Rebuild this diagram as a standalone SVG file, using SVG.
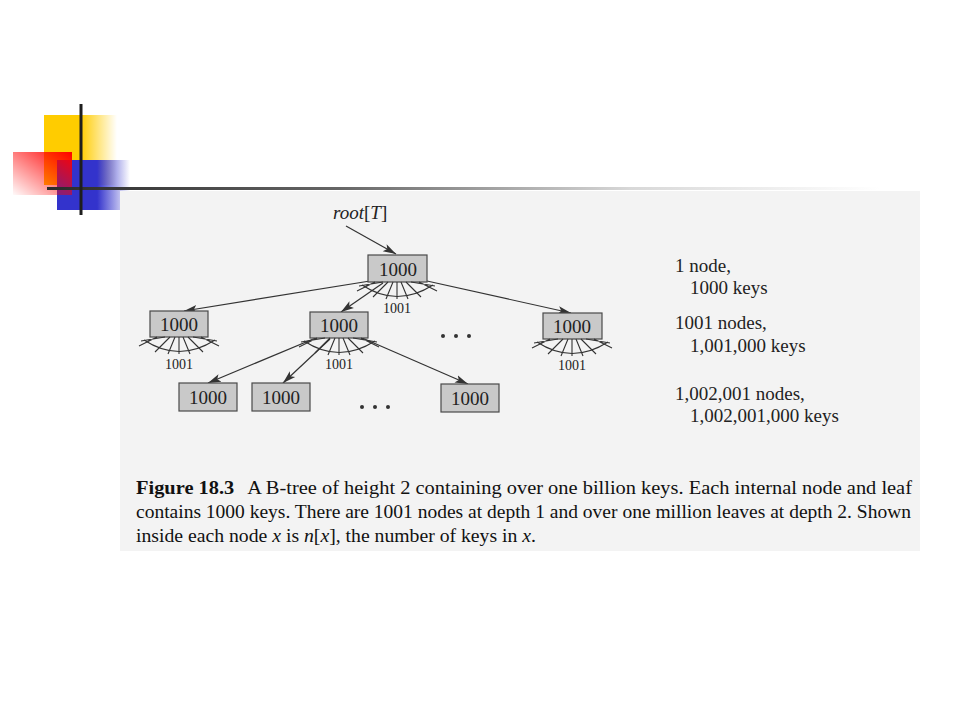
<svg xmlns="http://www.w3.org/2000/svg" width="960" height="720" viewBox="0 0 960 720">
<defs>
<style>
.nd{fill:#c9c9c9;stroke:#4a4a4a;stroke-width:1.2}
.nt{font-family:"Liberation Serif","Times New Roman",serif;font-size:19px;fill:#222;text-anchor:middle}
.lb{font-family:"Liberation Serif","Times New Roman",serif;font-size:14px;fill:#222;text-anchor:middle}
.rt{font-family:"Liberation Serif","Times New Roman",serif;font-size:19px;fill:#222}
.cap{font-family:"Liberation Serif","Times New Roman",serif;font-size:19px;fill:#111}
.ed{stroke:#333;stroke-width:1.2;fill:none;marker-end:url(#ah)}
.fan{stroke:#333;stroke-width:1.1;fill:none}
.dot{fill:#333}
</style>
<marker id="ah" markerUnits="userSpaceOnUse" markerWidth="14" markerHeight="10" viewBox="0 0 14 10" refX="13" refY="5" orient="auto">
<path d="M0,1 L13,5 L0,9 L3,5 Z" fill="#333"/>
</marker>
<g id="fan">
<path class="fan" d="M-35,3 Q0,26 36,3"/>
<path class="fan" d="M-22,0 L-40,9 M-14,0 L-38,4 M-9,0 L-24,15 M-4,0 L-11,17 M0,0 L0,17 M4,0 L11,17 M9,0 L24,15 M14,0 L38,4 M22,0 L40,9"/>
</g>
<linearGradient id="gy" x1="0" y1="0" x2="1" y2="0">
<stop offset="0" stop-color="#FFCC00"/><stop offset="0.5" stop-color="#FFCC00"/><stop offset="1" stop-color="#FFCC00" stop-opacity="0"/>
</linearGradient>
<linearGradient id="gb" x1="0" y1="0" x2="1" y2="0">
<stop offset="0" stop-color="#3333CC"/><stop offset="0.55" stop-color="#3333CC"/><stop offset="1" stop-color="#3333CC" stop-opacity="0"/>
</linearGradient>
<linearGradient id="gr" x1="1" y1="0" x2="0" y2="1">
<stop offset="0" stop-color="#FF0000"/><stop offset="1" stop-color="#FF0000" stop-opacity="0.02"/>
</linearGradient>
<linearGradient id="gl" gradientUnits="userSpaceOnUse" x1="47" y1="0" x2="880" y2="0">
<stop offset="0" stop-color="#2a2a2a"/><stop offset="0.35" stop-color="#666"/><stop offset="0.7" stop-color="#d8d8d8"/><stop offset="1" stop-color="#ffffff"/>
</linearGradient>
</defs>
<rect width="960" height="720" fill="#ffffff"/>
<g id="decor">
<rect x="44" y="115" width="73" height="70" fill="url(#gy)"/>
<rect x="57" y="160" width="73" height="50" fill="url(#gb)"/>
<rect x="13" y="152" width="59" height="43" fill="url(#gr)"/>
<rect x="47" y="187" width="873" height="3" fill="url(#gl)"/>
<rect x="79.5" y="104" width="3" height="111" fill="#1e1e1e"/>
</g>
<rect id="panel" x="120" y="191" width="800" height="360" fill="#f3f3f3"/>
<g id="connectors">
<path class="ed" d="M346,226 L396,254"/>
<path class="ed" d="M370,281 L184,311"/>
<path class="ed" d="M383,283 L341,312"/>
<path class="ed" d="M427,281 L571,313"/>
<path class="ed" d="M318,337 L208,383"/>
<path class="ed" d="M330,339 L283,383"/>
<path class="ed" d="M360,337 L468,384"/>
</g>
<text class="rt" x="333" y="219" font-style="italic">root<tspan font-style="normal">[</tspan>T<tspan font-style="normal">]</tspan></text>
<g id="root">
<rect class="nd" x="368" y="255" width="59" height="27"/>
<text class="nt" x="398" y="276">1000</text>
<use href="#fan" x="397" y="282"/>
<text class="lb" x="397" y="313">1001</text>
</g>
<g id="d1-left">
<rect class="nd" x="150" y="311" width="58" height="26"/>
<text class="nt" x="179" y="331">1000</text>
<use href="#fan" x="179" y="337"/>
<text class="lb" x="179" y="369">1001</text>
</g>
<g id="d1-mid">
<rect class="nd" x="310" y="312" width="58" height="26"/>
<text class="nt" x="339" y="332">1000</text>
<use href="#fan" x="339" y="338"/>
<text class="lb" x="339" y="369">1001</text>
</g>
<g id="d1-right">
<rect class="nd" x="543" y="313" width="59" height="26"/>
<text class="nt" x="572" y="333">1000</text>
<use href="#fan" x="572" y="339"/>
<text class="lb" x="572" y="370">1001</text>
</g>
<g id="leaf1">
<rect class="nd" x="179" y="383" width="58" height="28"/>
<text class="nt" x="208" y="404">1000</text>
</g>
<g id="leaf2">
<rect class="nd" x="252" y="383" width="58" height="28"/>
<text class="nt" x="281" y="404">1000</text>
</g>
<g id="leaf3">
<rect class="nd" x="441" y="384" width="58" height="28"/>
<text class="nt" x="470" y="405">1000</text>
</g>
<g id="dots">
<circle class="dot" cx="443" cy="336" r="2"/><circle class="dot" cx="456" cy="336" r="2"/><circle class="dot" cx="469" cy="336" r="2"/>
<circle class="dot" cx="362" cy="407" r="2"/><circle class="dot" cx="375" cy="407" r="2"/><circle class="dot" cx="388" cy="407" r="2"/>
</g>
<g id="counts">
<text class="rt" x="675" y="272">1 node,</text>
<text class="rt" x="690" y="294">1000 keys</text>
<text class="rt" x="675" y="329">1001 nodes,</text>
<text class="rt" x="690" y="352">1,001,000 keys</text>
<text class="rt" x="675" y="400">1,002,001 nodes,</text>
<text class="rt" x="690" y="422">1,002,001,000 keys</text>
</g>
<g id="caption">
<text class="cap" x="136" y="494" textLength="776" lengthAdjust="spacingAndGlyphs"><tspan font-weight="bold">Figure 18.3</tspan><tspan dx="12">A B-tree of height 2 containing over one billion keys.  Each internal node and leaf</tspan></text>
<text class="cap" x="136" y="518" textLength="775" lengthAdjust="spacingAndGlyphs">contains 1000 keys. There are 1001 nodes at depth 1 and over one million leaves at depth 2. Shown</text>
<text class="cap" x="136" y="542" textLength="400" lengthAdjust="spacingAndGlyphs">inside each node <tspan font-style="italic">x</tspan> is <tspan font-style="italic">n</tspan>[<tspan font-style="italic">x</tspan>], the number of keys in <tspan font-style="italic">x</tspan>.</text>
</g>
</svg>
